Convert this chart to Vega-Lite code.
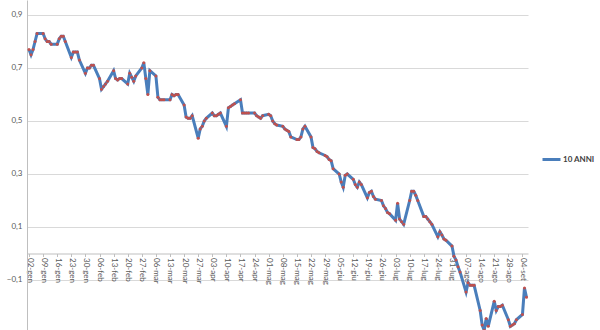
{
  "$schema": "https://vega.github.io/schema/vega-lite/v6.json",
  "width": 501,
  "height": 333,
  "autosize": {"type": "none"},
  "padding": {"left": 27, "top": 0, "right": 72, "bottom": 0},
  "background": "white",
  "config": {"view": {"stroke": null}, "font": "Lato"},
  "data": {"values": [
    {"d":"2017-01-02","v":0.77},{"d":"2017-01-03","v":0.75},{"d":"2017-01-04","v":0.77},{"d":"2017-01-05","v":0.80},{"d":"2017-01-06","v":0.83},
    {"d":"2017-01-09","v":0.83},{"d":"2017-01-10","v":0.81},{"d":"2017-01-11","v":0.80},{"d":"2017-01-12","v":0.80},{"d":"2017-01-13","v":0.79},
    {"d":"2017-01-16","v":0.79},{"d":"2017-01-17","v":0.81},{"d":"2017-01-18","v":0.82},{"d":"2017-01-19","v":0.82},{"d":"2017-01-20","v":0.80},
    {"d":"2017-01-23","v":0.74},{"d":"2017-01-24","v":0.76},{"d":"2017-01-25","v":0.76},{"d":"2017-01-26","v":0.76},{"d":"2017-01-27","v":0.73},
    {"d":"2017-01-30","v":0.68},{"d":"2017-01-31","v":0.70},{"d":"2017-02-01","v":0.70},{"d":"2017-02-02","v":0.71},{"d":"2017-02-03","v":0.71},
    {"d":"2017-02-06","v":0.66},{"d":"2017-02-07","v":0.62},{"d":"2017-02-08","v":0.63},{"d":"2017-02-09","v":0.64},{"d":"2017-02-10","v":0.65},
    {"d":"2017-02-13","v":0.69},{"d":"2017-02-14","v":0.66},{"d":"2017-02-15","v":0.655},{"d":"2017-02-16","v":0.66},{"d":"2017-02-17","v":0.66},
    {"d":"2017-02-20","v":0.64},{"d":"2017-02-21","v":0.68},{"d":"2017-02-22","v":0.665},{"d":"2017-02-23","v":0.65},{"d":"2017-02-24","v":0.67},
    {"d":"2017-02-27","v":0.70},{"d":"2017-02-28","v":0.72},{"d":"2017-03-01","v":0.66},{"d":"2017-03-02","v":0.60},{"d":"2017-03-03","v":0.69},
    {"d":"2017-03-06","v":0.67},{"d":"2017-03-07","v":0.59},{"d":"2017-03-08","v":0.58},{"d":"2017-03-09","v":0.58},{"d":"2017-03-10","v":0.58},
    {"d":"2017-03-13","v":0.58},{"d":"2017-03-14","v":0.60},{"d":"2017-03-15","v":0.595},{"d":"2017-03-16","v":0.60},{"d":"2017-03-17","v":0.60},
    {"d":"2017-03-20","v":0.56},{"d":"2017-03-21","v":0.515},{"d":"2017-03-22","v":0.51},{"d":"2017-03-23","v":0.51},{"d":"2017-03-24","v":0.52},
    {"d":"2017-03-27","v":0.435},{"d":"2017-03-28","v":0.47},{"d":"2017-03-29","v":0.48},{"d":"2017-03-30","v":0.50},{"d":"2017-03-31","v":0.51},
    {"d":"2017-04-03","v":0.53},{"d":"2017-04-04","v":0.52},{"d":"2017-04-05","v":0.52},{"d":"2017-04-06","v":0.525},{"d":"2017-04-07","v":0.53},
    {"d":"2017-04-10","v":0.48},{"d":"2017-04-11","v":0.55},{"d":"2017-04-12","v":0.555},{"d":"2017-04-13","v":0.56},{"d":"2017-04-14","v":0.565},
    {"d":"2017-04-17","v":0.58},{"d":"2017-04-18","v":0.53},{"d":"2017-04-19","v":0.53},{"d":"2017-04-20","v":0.53},{"d":"2017-04-21","v":0.53},
    {"d":"2017-04-24","v":0.53},{"d":"2017-04-25","v":0.52},{"d":"2017-04-26","v":0.515},{"d":"2017-04-27","v":0.51},{"d":"2017-04-28","v":0.52},
    {"d":"2017-05-01","v":0.525},{"d":"2017-05-02","v":0.52},{"d":"2017-05-03","v":0.50},{"d":"2017-05-04","v":0.49},{"d":"2017-05-05","v":0.485},
    {"d":"2017-05-08","v":0.48},{"d":"2017-05-09","v":0.47},{"d":"2017-05-10","v":0.465},{"d":"2017-05-11","v":0.46},{"d":"2017-05-12","v":0.44},
    {"d":"2017-05-15","v":0.43},{"d":"2017-05-16","v":0.43},{"d":"2017-05-17","v":0.44},{"d":"2017-05-18","v":0.47},{"d":"2017-05-19","v":0.48},
    {"d":"2017-05-22","v":0.44},{"d":"2017-05-23","v":0.40},{"d":"2017-05-24","v":0.395},{"d":"2017-05-25","v":0.385},{"d":"2017-05-26","v":0.38},
    {"d":"2017-05-29","v":0.37},{"d":"2017-05-30","v":0.365},{"d":"2017-05-31","v":0.355},{"d":"2017-06-01","v":0.35},{"d":"2017-06-02","v":0.32},
    {"d":"2017-06-05","v":0.30},{"d":"2017-06-06","v":0.27},{"d":"2017-06-07","v":0.25},{"d":"2017-06-08","v":0.295},{"d":"2017-06-09","v":0.30},
    {"d":"2017-06-12","v":0.28},{"d":"2017-06-13","v":0.26},{"d":"2017-06-14","v":0.25},{"d":"2017-06-15","v":0.27},{"d":"2017-06-16","v":0.26},
    {"d":"2017-06-19","v":0.21},{"d":"2017-06-20","v":0.23},{"d":"2017-06-21","v":0.235},{"d":"2017-06-22","v":0.215},{"d":"2017-06-23","v":0.205},
    {"d":"2017-06-26","v":0.20},{"d":"2017-06-27","v":0.18},{"d":"2017-06-28","v":0.17},{"d":"2017-06-29","v":0.155},{"d":"2017-06-30","v":0.15},
    {"d":"2017-07-03","v":0.125},{"d":"2017-07-04","v":0.19},{"d":"2017-07-05","v":0.13},{"d":"2017-07-06","v":0.12},{"d":"2017-07-07","v":0.11},
    {"d":"2017-07-10","v":0.20},{"d":"2017-07-11","v":0.235},{"d":"2017-07-12","v":0.235},{"d":"2017-07-13","v":0.22},{"d":"2017-07-14","v":0.20},
    {"d":"2017-07-17","v":0.14},{"d":"2017-07-18","v":0.14},{"d":"2017-07-19","v":0.13},{"d":"2017-07-20","v":0.12},{"d":"2017-07-21","v":0.11},
    {"d":"2017-07-24","v":0.063},{"d":"2017-07-25","v":0.082},{"d":"2017-07-26","v":0.07},{"d":"2017-07-27","v":0.055},{"d":"2017-07-28","v":0.05},
    {"d":"2017-07-31","v":0.028},{"d":"2017-08-01","v":-0.01},{"d":"2017-08-02","v":-0.025},{"d":"2017-08-03","v":-0.05},{"d":"2017-08-04","v":-0.07},
    {"d":"2017-08-07","v":-0.145},{"d":"2017-08-08","v":-0.11},{"d":"2017-08-09","v":-0.12},{"d":"2017-08-10","v":-0.12},{"d":"2017-08-11","v":-0.12},
    {"d":"2017-08-14","v":-0.215},{"d":"2017-08-15","v":-0.27},{"d":"2017-08-16","v":-0.29},{"d":"2017-08-17","v":-0.245},{"d":"2017-08-18","v":-0.275},
    {"d":"2017-08-21","v":-0.18},{"d":"2017-08-22","v":-0.215},{"d":"2017-08-23","v":-0.20},{"d":"2017-08-24","v":-0.20},{"d":"2017-08-25","v":-0.195},
    {"d":"2017-08-28","v":-0.25},{"d":"2017-08-29","v":-0.275},{"d":"2017-08-30","v":-0.27},{"d":"2017-08-31","v":-0.265},{"d":"2017-09-01","v":-0.25},
    {"d":"2017-09-04","v":-0.23},{"d":"2017-09-05","v":-0.13},{"d":"2017-09-06","v":-0.165}
  ]},
  "encoding": {
    "x": {
      "field": "d", "type": "temporal",
      "scale": {"type": "utc", "domain": [{"year":2017,"month":1,"date":1,"utc":true},{"year":2017,"month":9,"date":6,"hours":18,"utc":true}]},
      "axis": {
        "title": null,
        "offset": -79.5,
        "grid": false,
        "domainColor": "#bfbfbf",
        "tickColor": "#bfbfbf",
        "tickSize": 3,
        "labelAngle": 90,
        "labelPadding": 1,
        "labelFontSize": 8,
        "labelColor": "#595959",
        "labelOverlap": false,
        "labelFlush": false,
        "values": [
          {"year":2017,"month":1,"date":2,"utc":true},{"year":2017,"month":1,"date":9,"utc":true},{"year":2017,"month":1,"date":16,"utc":true},{"year":2017,"month":1,"date":23,"utc":true},{"year":2017,"month":1,"date":30,"utc":true},
          {"year":2017,"month":2,"date":6,"utc":true},{"year":2017,"month":2,"date":13,"utc":true},{"year":2017,"month":2,"date":20,"utc":true},{"year":2017,"month":2,"date":27,"utc":true},
          {"year":2017,"month":3,"date":6,"utc":true},{"year":2017,"month":3,"date":13,"utc":true},{"year":2017,"month":3,"date":20,"utc":true},{"year":2017,"month":3,"date":27,"utc":true},
          {"year":2017,"month":4,"date":3,"utc":true},{"year":2017,"month":4,"date":10,"utc":true},{"year":2017,"month":4,"date":17,"utc":true},{"year":2017,"month":4,"date":24,"utc":true},
          {"year":2017,"month":5,"date":1,"utc":true},{"year":2017,"month":5,"date":8,"utc":true},{"year":2017,"month":5,"date":15,"utc":true},{"year":2017,"month":5,"date":22,"utc":true},{"year":2017,"month":5,"date":29,"utc":true},
          {"year":2017,"month":6,"date":5,"utc":true},{"year":2017,"month":6,"date":12,"utc":true},{"year":2017,"month":6,"date":19,"utc":true},{"year":2017,"month":6,"date":26,"utc":true},
          {"year":2017,"month":7,"date":3,"utc":true},{"year":2017,"month":7,"date":10,"utc":true},{"year":2017,"month":7,"date":17,"utc":true},{"year":2017,"month":7,"date":24,"utc":true},{"year":2017,"month":7,"date":31,"utc":true},
          {"year":2017,"month":8,"date":7,"utc":true},{"year":2017,"month":8,"date":14,"utc":true},{"year":2017,"month":8,"date":21,"utc":true},{"year":2017,"month":8,"date":28,"utc":true},
          {"year":2017,"month":9,"date":4,"utc":true}
        ],
        "labelExpr": "utcFormat(datum.value, '%d') + '-' + ['gen','feb','mar','apr','mag','giu','lug','ago','set','ott','nov','dic'][utcmonth(datum.value)]"
      }
    },
    "y": {
      "field": "v", "type": "quantitative",
      "scale": {"domain": [-0.3, 0.9566], "nice": false, "zero": false},
      "axis": {
        "title": null,
        "values": [-0.1, 0.1, 0.3, 0.5, 0.7, 0.9],
        "labelExpr": "replace(format(datum.value, '.1f'), '.', ',')",
        "grid": true,
        "gridColor": "#d9d9d9",
        "gridWidth": 1.2,
        "domainColor": "#bfbfbf",
        "ticks": false,
        "labelPadding": 5,
        "labelFontSize": 8,
        "labelColor": "#595959"
      }
    }
  },
  "layer": [
    {
      "mark": {"type": "line", "strokeWidth": 3},
      "encoding": {
        "color": {
          "datum": "10 ANNI", "type": "nominal",
          "scale": {"range": ["#4a7ebb"]},
          "legend": {
            "title": null,
            "orient": "none",
            "legendX": 514,
            "legendY": 149,
            "padding": 0,
            "symbolType": "stroke",
            "symbolSize": 324,
            "symbolStrokeWidth": 3,
            "labelFontSize": 8,
            "labelFontWeight": "bold",
            "labelColor": "#404040",
            "labelOffset": 1
          }
        }
      }
    },
    {
      "mark": {"type": "point", "filled": true, "size": 9, "color": "#c0504d", "opacity": 1},
      "encoding": {}
    }
  ]
}
